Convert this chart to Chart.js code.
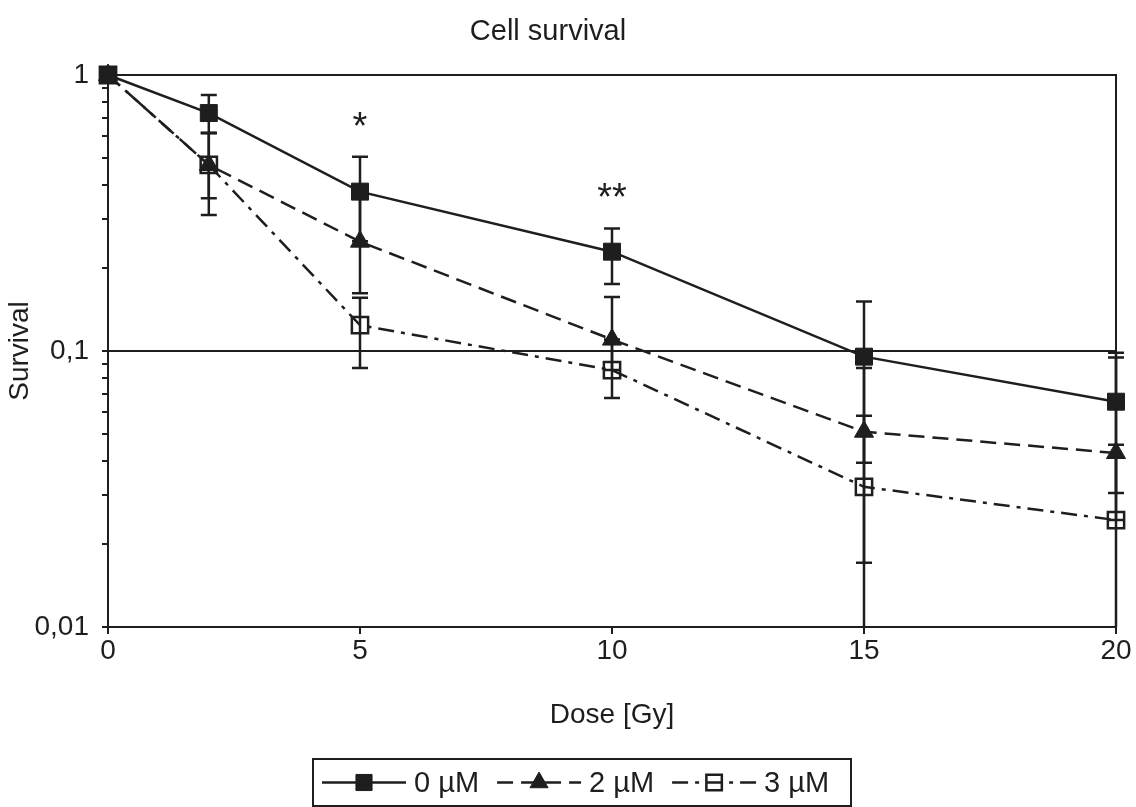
<!DOCTYPE html>
<html>
<head>
<meta charset="utf-8">
<title>Cell survival</title>
<script src="https://cdn.jsdelivr.net/npm/chart.js@4.4.1/dist/chart.umd.min.js"></script>
<style>
  html, body { margin: 0; padding: 0; background: #fff; }
  #wrap { width: 1136px; height: 807px; position: relative; }
</style>
</head>
<body>
<div id="wrap"><canvas id="survivalChart"></canvas></div>
<script>
// doses (Gy) and surviving fractions
const doses = [0, 2, 5, 10, 15, 20];
const seriesLabels = ['0 µM', '2 µM', '3 µM'];
const survival0 = [1, 0.728, 0.378, 0.229, 0.0954, 0.0655];
const survival2 = [1, 0.472, 0.249, 0.110, 0.0510, 0.0427];
const survival3 = [1, 0.472, 0.124, 0.0853, 0.0322, 0.0244];

// error bar ends (absolute survival values)
const errLow0  = [1, 0.616, 0.250, 0.175, 0.0394, 0.0306];
const errHigh0 = [1, 0.846, 0.506, 0.278, 0.151, 0.0986];
const errLow2  = [1, 0.358, 0.162, 0.0853, 0.0171, 0.0244];
const errHigh2 = [1, 0.616, 0.378, 0.157, 0.0868, 0.0948];
const errLow3  = [1, 0.311, 0.0868, 0.0676, 0.005, 0.004];
const errHigh3 = [1, 0.616, 0.156, 0.110, 0.0583, 0.0457];

// significance marks
const sigDoses = [5, 10];
const sigLevels = [0.64, 0.355];
const sigText = ['*', '**'];

// axis ticks
const xTicks = [0, 5, 10, 15, 20];
const yTicks = [0.01, 0.02, 0.03, 0.04, 0.05, 0.06, 0.07, 0.08, 0.09,
                0.1, 0.2, 0.3, 0.4, 0.5, 0.6, 0.7, 0.8, 0.9, 1];
const yMajor = [0.01, 0.1, 1];
const yMajorText = ['0,01', '0,1', '1'];

const FONT = '"Liberation Sans", Arial, Helvetica, sans-serif';
const INK = '#1e1e1e';

function toPoints(values) {
    return doses.map((d, i) => ({ x: d, y: values[i] }));
}

const errorSets = [
    { low: errLow0, high: errHigh0 },
    { low: errLow2, high: errHigh2 },
    { low: errLow3, high: errHigh3 }
];

const frameAndErrorsPlugin = {
    id: 'frameAndErrors',
    beforeDatasetsDraw(chart) {
        const { ctx, chartArea, scales: { x, y } } = chart;
        ctx.save();
        // box around plot area
        ctx.strokeStyle = INK;
        ctx.lineWidth = 2;
        ctx.strokeRect(chartArea.left, chartArea.top, chartArea.right - chartArea.left, chartArea.bottom - chartArea.top);
        // error bars, clipped at the bottom axis
        ctx.beginPath();
        ctx.rect(0, chartArea.top - 20, chart.width, chartArea.bottom - chartArea.top + 20);
        ctx.clip();
        ctx.lineWidth = 2.5;
        const cap = 8;
        errorSets.forEach(set => {
            doses.forEach((d, i) => {
                if (set.low[i] === set.high[i]) return;
                const px = x.getPixelForValue(d);
                const yl = y.getPixelForValue(set.low[i]);
                const yh = y.getPixelForValue(set.high[i]);
                ctx.beginPath();
                ctx.moveTo(px, yl); ctx.lineTo(px, yh);
                ctx.moveTo(px - cap, yl); ctx.lineTo(px + cap, yl);
                ctx.moveTo(px - cap, yh); ctx.lineTo(px + cap, yh);
                ctx.stroke();
            });
        });
        ctx.restore();
    },
    afterDatasetsDraw(chart) {
        const { ctx, scales: { x, y } } = chart;
        ctx.save();
        ctx.fillStyle = INK;
        ctx.font = '38px ' + FONT;
        ctx.textAlign = 'center';
        ctx.textBaseline = 'middle';
        sigDoses.forEach((d, i) => {
            ctx.fillText(sigText[i], x.getPixelForValue(d), y.getPixelForValue(sigLevels[i]));
        });
        ctx.restore();
    },
    afterDraw(chart) {
        const ctx = chart.ctx;
        ctx.save();
        // title
        ctx.fillStyle = INK;
        ctx.font = '29px ' + FONT;
        ctx.textAlign = 'center';
        ctx.textBaseline = 'middle';
        ctx.fillText('Cell survival', 548, 32);

        // legend box
        const boxLeft = 313, boxTop = 759, boxRight = 851, boxBottom = 806;
        ctx.strokeStyle = INK;
        ctx.lineWidth = 2;
        ctx.strokeRect(boxLeft, boxTop, boxRight - boxLeft, boxBottom - boxTop);
        ctx.textAlign = 'left';
        ctx.font = '29px ' + FONT;
        const cy = (boxTop + boxBottom) / 2;
        let lx = boxLeft + 9;
        chart.data.datasets.forEach(ds => {
            const sampleLen = 84;
            ctx.strokeStyle = INK;
            ctx.lineWidth = ds.borderWidth;
            ctx.setLineDash(ds.borderDash || []);
            ctx.beginPath();
            ctx.moveTo(lx, cy); ctx.lineTo(lx + sampleLen, cy);
            ctx.stroke();
            ctx.setLineDash([]);
            ctx.fillStyle = ds.pointBackgroundColor;
            ctx.strokeStyle = ds.pointBorderColor;
            ctx.lineWidth = ds.pointBorderWidth;
            Chart.helpers.drawPoint(ctx, {
                pointStyle: ds.pointStyle, radius: ds.pointRadius * 0.95,
                borderWidth: ds.pointBorderWidth, rotation: 0
            }, lx + sampleLen / 2, cy);
            ctx.fillStyle = INK;
            ctx.fillText(ds.label, lx + sampleLen + 8, cy + 1);
            lx += sampleLen + 8 + ctx.measureText(ds.label).width + 18;
        });
        ctx.restore();
    }
};

new Chart(document.getElementById('survivalChart'), {
    type: 'line',
    data: {
        datasets: [
            { label: seriesLabels[0], data: toPoints(survival0), borderColor: INK, borderWidth: 2.5, borderDash: [], clip: false,
              pointStyle: 'rect', pointRadius: 12, pointBackgroundColor: INK, pointBorderColor: INK, pointBorderWidth: 1, tension: 0 },
            { label: seriesLabels[1], data: toPoints(survival2), borderColor: INK, borderWidth: 2.5, borderDash: [16, 8], clip: false,
              pointStyle: 'triangle', pointRadius: 11, pointBackgroundColor: INK, pointBorderColor: INK, pointBorderWidth: 1, tension: 0 },
            { label: seriesLabels[2], data: toPoints(survival3), borderColor: INK, borderWidth: 2.5, borderDash: [16, 7, 4, 7], clip: false,
              pointStyle: 'rect', pointRadius: 11.5, pointBackgroundColor: 'rgba(0,0,0,0)', pointBorderColor: INK, pointBorderWidth: 2.5, tension: 0 }
        ]
    },
    options: {
        responsive: true, maintainAspectRatio: false, animation: false,
        layout: { padding: { top: 75, left: 0, right: 20, bottom: 60 } },
        plugins: { legend: { display: false }, title: { display: false }, tooltip: { enabled: false } },
        scales: {
            x: {
                type: 'linear', min: 0, max: 20,
                afterBuildTicks: scale => { scale.ticks = xTicks.map(v => ({ value: v })); },
                afterFit: scale => { scale.height = 120; },
                ticks: { color: INK, font: { family: FONT, size: 28 }, padding: 0, maxRotation: 0 },
                grid: { drawOnChartArea: false, drawTicks: true, tickLength: 7, tickColor: INK, lineWidth: 2 },
                border: { display: true, color: INK, width: 2 },
                title: { display: true, text: 'Dose [Gy]', color: INK, font: { family: FONT, size: 28 }, padding: { top: 15, bottom: 15 } }
            },
            y: {
                type: 'logarithmic', min: 0.01, max: 1,
                afterBuildTicks: scale => { scale.ticks = yTicks.map(v => ({ value: v, major: yMajor.includes(v) })); },
                afterFit: scale => { scale.width = 108; },
                ticks: {
                    autoSkip: false, color: INK, font: { family: FONT, size: 28 }, padding: 13,
                    callback: v => { const i = yMajor.indexOf(v); return i >= 0 ? yMajorText[i] : ''; }
                },
                grid: {
                    drawTicks: true, tickLength: 6, tickColor: INK, lineWidth: 2,
                    color: c => (c.tick && yMajor.includes(c.tick.value)) ? INK : 'rgba(0,0,0,0)'
                },
                border: { display: true, color: INK, width: 2 },
                title: { display: true, text: 'Survival', color: INK, font: { family: FONT, size: 28 }, padding: { top: 3, bottom: 3 } }
            }
        }
    },
    plugins: [frameAndErrorsPlugin]
});
</script>
</body>
</html>
